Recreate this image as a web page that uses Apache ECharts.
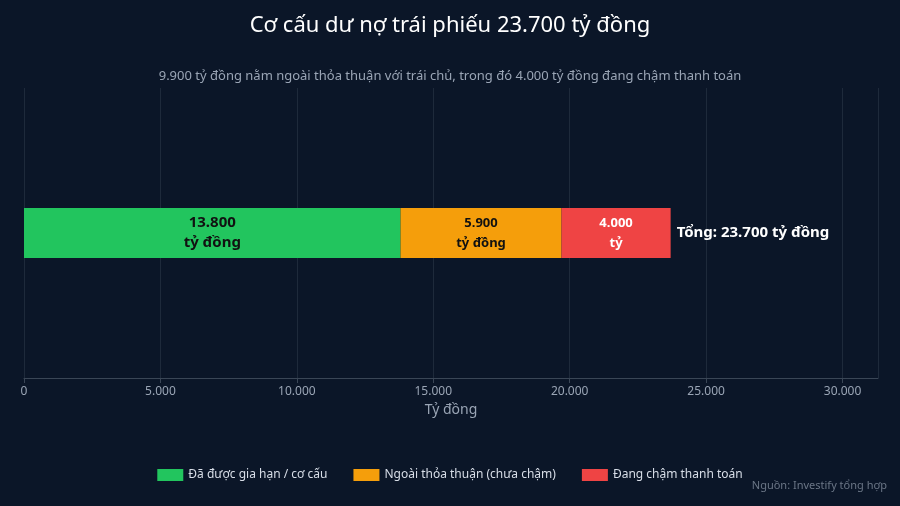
<!DOCTYPE html>
<html><head><meta charset="utf-8">
<script src="https://cdn.jsdelivr.net/npm/echarts@6/dist/echarts.min.js"></script>
<style>html,body{margin:0;background:#0b1628}#c{width:900px;height:506px}</style>
</head><body><div id="c"></div>
<script>
var categories = ['Dư nợ'];
var seriesNames = ['Đã được gia hạn / cơ cấu', 'Ngoài thỏa thuận (chưa chậm)', 'Đang chậm thanh toán'];
var seriesValues = [13800, 5900, 4000];
var seriesColors = ['#22c55e', '#f59e0b', '#ef4444'];
var total = 23700;

function fmt(v){ return String(v).replace(/\B(?=(\d{3})+(?!\d))/g, '.'); }

var series = [];
for (var i = 0; i < seriesValues.length; i++) {
  series.push({
    name: seriesNames[i], type: 'bar', stack: 'a', barWidth: 50,
    data: [seriesValues[i]],
    itemStyle: {color: seriesColors[i]},
    label: {
      show: true, position: 'inside', fontWeight: 'bold', lineHeight: 20,
      fontSize: i == 0 ? 15 : 13,
      color: i == 2 ? '#ffffff' : '#111111',
      formatter: i == 2 ? fmt(seriesValues[i]) + '\ntỷ' : fmt(seriesValues[i]) + '\ntỷ đồng'
    }
  });
}
series.push({
  name: 'total', type: 'bar', stack: 'a', data: [0], barWidth: 50,
  label: {show: true, position: 'right', distance: 6, color: '#ffffff', fontWeight: 'bold', fontSize: 15,
    formatter: 'Tổng: ' + fmt(total) + ' tỷ đồng'}
});

var chart = echarts.init(document.getElementById('c'));
chart.setOption({
  backgroundColor: '#0b1628',
  textStyle: {fontFamily: 'Noto Sans'},
  title: [
    {text: 'Cơ cấu dư nợ trái phiếu 23.700 tỷ đồng', left: 'center', top: 10,
      textStyle: {color: '#ffffff', fontSize: 22, fontWeight: 'normal'}},
    {text: '9.900 tỷ đồng nằm ngoài thỏa thuận với trái chủ, trong đó 4.000 tỷ đồng đang chậm thanh toán',
      left: 'center', top: 65, textStyle: {color: '#9aa5b5', fontSize: 13, fontWeight: 'normal'}},
    {text: 'Nguồn: Investify tổng hợp', right: 8, bottom: 10,
      textStyle: {color: '#6b7686', fontSize: 11, fontWeight: 'normal'}}
  ],
  legend: {data: seriesNames, bottom: 20, itemWidth: 26, itemHeight: 12, itemGap: 26, icon: 'rect',
    textStyle: {color: '#d8dee8', fontSize: 12}},
  grid: {left: 24, right: 22, top: 88, bottom: 128},
  xAxis: {type: 'value', min: 0, max: 31300, interval: 5000,
    name: 'Tỷ đồng', nameLocation: 'middle', nameGap: 24, nameTextStyle: {color: '#9aa5b5', fontSize: 14},
    axisLine: {show: true, lineStyle: {color: '#3a4656'}},
    axisTick: {show: true, lineStyle: {color: '#3a4656'}},
    axisLabel: {color: '#9aa5b5', fontSize: 12, showMaxLabel: false, formatter: function(v){ return fmt(v); }},
    splitLine: {lineStyle: {color: '#1e2a3b'}}},
  yAxis: {type: 'category', data: categories, show: false},
  series: series
});
</script></body></html>
